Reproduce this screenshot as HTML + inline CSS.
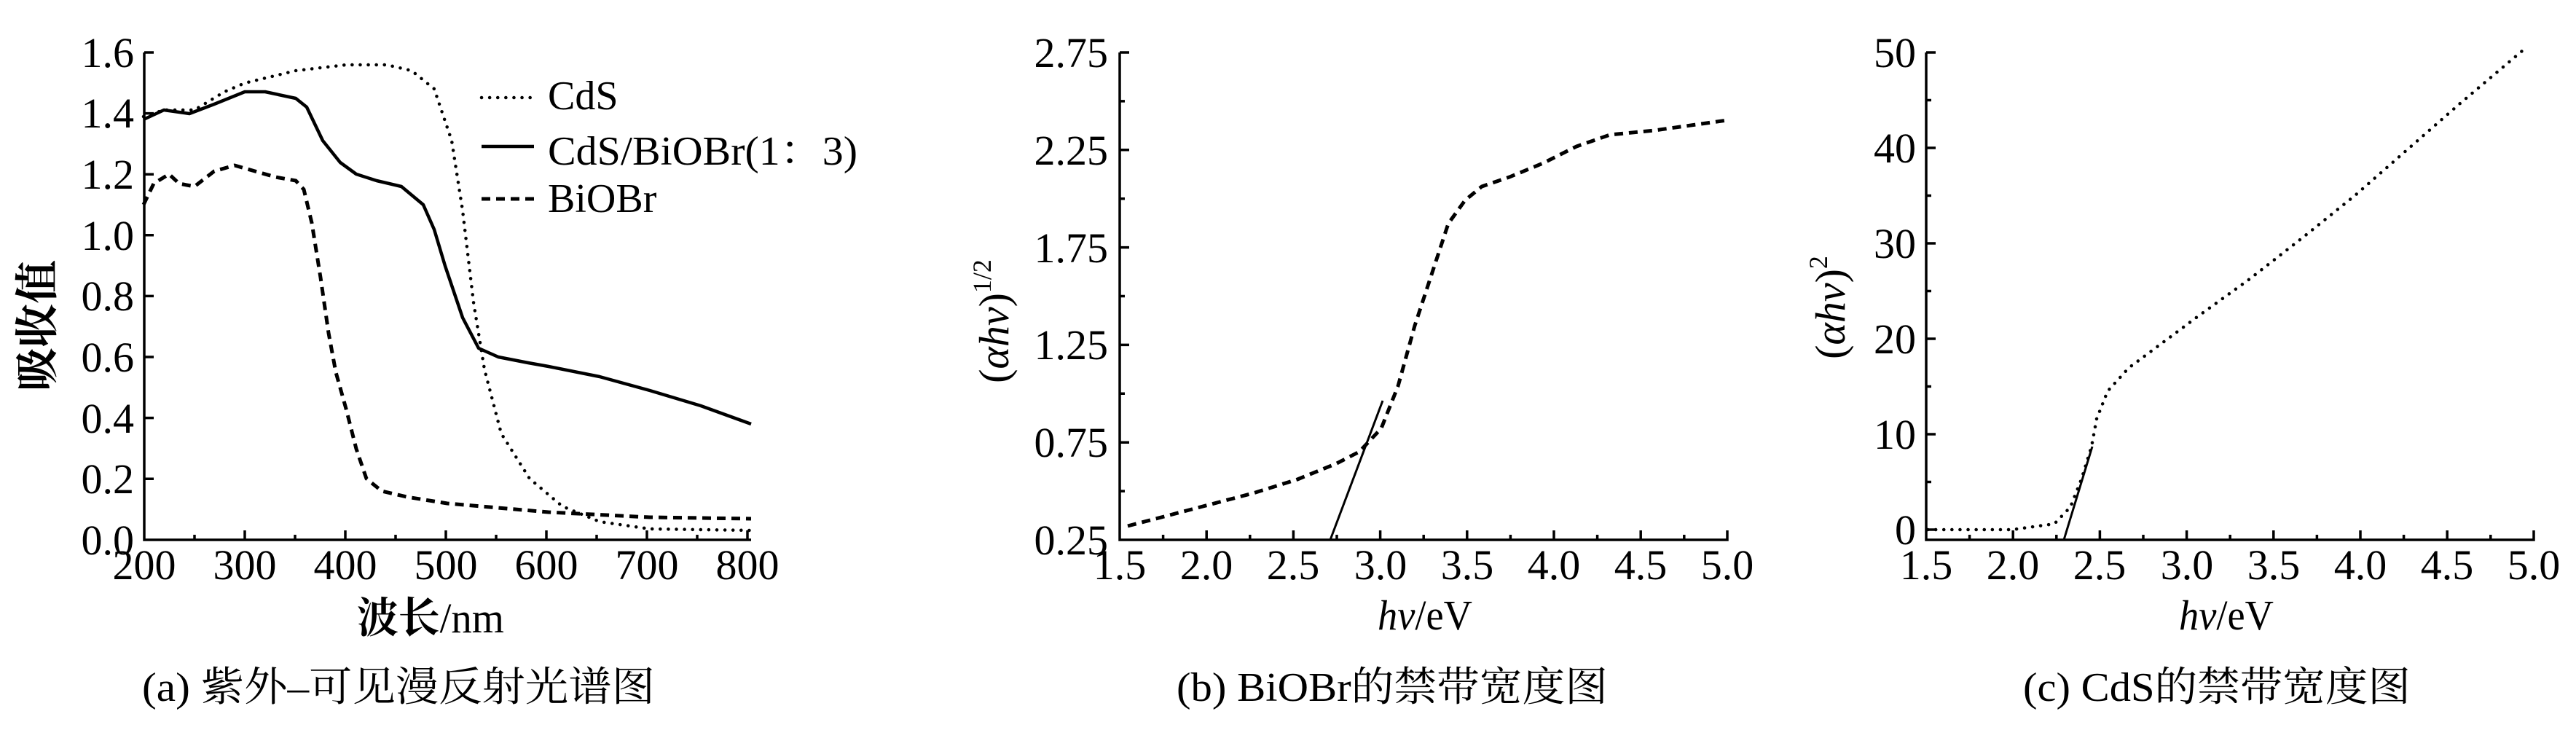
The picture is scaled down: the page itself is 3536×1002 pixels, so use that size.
<!DOCTYPE html>
<html><head><meta charset="utf-8"><style>html,body{margin:0;padding:0;background:#fff}svg{display:block}</style></head>
<body>
<svg width="3536" height="1002" viewBox="0 0 3536 1002" xmlns="http://www.w3.org/2000/svg" font-family="'Liberation Serif','Noto Serif CJK SC',serif" fill="#000">
<g stroke="#000" stroke-width="3.5" fill="none">
<path d="M198 72 V741 H1031"/>
<path d="M198 72h13 M198 155.6h13 M198 239.2h13 M198 322.8h13 M198 406.4h13 M198 490h13 M198 573.6h13 M198 657.2h13"/>
<path d="M336 741v-13 M474 741v-13 M612 741v-13 M750 741v-13 M888 741v-13 M1026 741v-13 M267 741v-7 M405 741v-7 M543 741v-7 M681 741v-7 M819 741v-7 M957 741v-7"/>
<path d="M1537 72 V741 H2371 V728"/>
<path d="M1537 72h13 M1537 138.9h7 M1537 205.8h13 M1537 272.7h7 M1537 339.6h13 M1537 406.5h7 M1537 473.4h13 M1537 540.3h7 M1537 607.2h13 M1537 674.1h7"/>
<path d="M1596.6 741v-7 M1656.2 741v-13 M1715.8 741v-7 M1775.4 741v-13 M1835 741v-7 M1894.6 741v-13 M1954.2 741v-7 M2013.8 741v-13 M2073.4 741v-7 M2133 741v-13 M2192.6 741v-7 M2252.2 741v-13 M2311.8 741v-7"/>
<path d="M2644 72 V741 H3478 V728"/>
<path d="M2644 72h13 M2644 137.5h7 M2644 203h13 M2644 268.5h7 M2644 334h13 M2644 399.5h7 M2644 465h13 M2644 530.5h7 M2644 596h13 M2644 661.5h7 M2644 727h13"/>
<path d="M2703.6 741v-7 M2763.2 741v-13 M2822.8 741v-7 M2882.4 741v-13 M2942 741v-7 M3001.6 741v-13 M3061.2 741v-7 M3120.8 741v-13 M3180.4 741v-7 M3240 741v-13 M3299.6 741v-7 M3359.2 741v-13 M3418.8 741v-7"/>
</g>
<g fill="none" stroke="#000" stroke-linejoin="round">
<polyline stroke-width="4.5" stroke-linecap="round" stroke-dasharray="0.1 11" points="197,160 225,151 267,151 308,126 336,114 406,97 475,89 531,89 565,97 596,122 620,193 635,289 650,415 665,507 688,595 727,657 772,695 823,716 892,726 1031,728"/>
<polyline stroke-width="4.5" points="197,164 225,151 260,156 294,143 336,126 364,126 406,135 421,147 443,193 467,223 489,239 517,248 551,256 581,281 596,315 611,365 635,436 657,478 684,490 725,498 753,503 823,517 892,536 962,557 1031,582"/>
<polyline stroke-width="5" stroke-dasharray="12 8" points="197,281 211,252 232,239 246,252 267,256 294,235 322,227 350,235 378,243 406,248 417,260 428,306 440,381 451,457 461,511 475,561 489,616 503,657 524,674 558,682 614,691 753,703 892,710 1031,712"/>
<line x1="661" y1="134" x2="733" y2="134" stroke-width="4.5" stroke-linecap="round" stroke-dasharray="0.1 11"/>
<line x1="661" y1="201" x2="733" y2="201" stroke-width="4.5"/>
<line x1="661" y1="273" x2="733" y2="273" stroke-width="5" stroke-dasharray="12 8"/>
<polyline stroke-width="5" stroke-dasharray="12 8" points="1548,722 1598,709 1659,693 1720,677 1781,658 1835,636 1866,620 1896,588 1919,530 1942,447 1965,377 1988,307 2011,275 2034,256 2072,243 2118,224 2164,201 2210,185 2271,179 2371,165"/>
<line x1="1826" y1="741" x2="1898" y2="550" stroke-width="3"/>
<polyline stroke-width="4.5" stroke-linecap="round" stroke-dasharray="0.1 11" points="2646,727 2762,727 2820,719 2842,696 2857,658 2871,613 2878,575 2893,537 2922,505 2965,473 3016,435 3088,383 3161,326 3233,268 3306,204 3378,141 3462,70"/>
<line x1="2833" y1="741" x2="2872" y2="613" stroke-width="3"/>
</g>
<g font-size="58" text-anchor="end">
<text x="184" y="92">1.6</text><text x="184" y="175">1.4</text><text x="184" y="259">1.2</text><text x="184" y="343">1.0</text><text x="184" y="426">0.8</text><text x="184" y="510">0.6</text><text x="184" y="594">0.4</text><text x="184" y="677">0.2</text><text x="184" y="761">0.0</text>
</g>
<g font-size="58" text-anchor="middle">
<text x="198" y="795">200</text><text x="336" y="795">300</text><text x="474" y="795">400</text><text x="612" y="795">500</text><text x="750" y="795">600</text><text x="888" y="795">700</text><text x="1026" y="795">800</text>
<text x="1537" y="795">1.5</text><text x="1656" y="795">2.0</text><text x="1775" y="795">2.5</text><text x="1895" y="795">3.0</text><text x="2014" y="795">3.5</text><text x="2133" y="795">4.0</text><text x="2252" y="795">4.5</text><text x="2371" y="795">5.0</text>
<text x="2644" y="795">1.5</text><text x="2763" y="795">2.0</text><text x="2882" y="795">2.5</text><text x="3002" y="795">3.0</text><text x="3121" y="795">3.5</text><text x="3240" y="795">4.0</text><text x="3359" y="795">4.5</text><text x="3478" y="795">5.0</text>
</g>
<g font-size="58" text-anchor="end">
<text x="1521" y="92">2.75</text><text x="1521" y="226">2.25</text><text x="1521" y="360">1.75</text><text x="1521" y="493">1.25</text><text x="1521" y="627">0.75</text><text x="1521" y="761">0.25</text>
</g>
<g font-size="58" text-anchor="end">
<text x="2630" y="92">50</text><text x="2630" y="223">40</text><text x="2630" y="354">30</text><text x="2630" y="485">20</text><text x="2630" y="616">10</text><text x="2630" y="747">0</text>
</g>
<g font-size="56">
<text x="752" y="150">CdS</text>
<text x="752" y="226" textLength="425" lengthAdjust="spacingAndGlyphs">CdS/BiOBr(1：3)</text>
<text x="752" y="291">BiOBr</text>
</g>
<text x="490" y="868" font-size="58" font-weight="bold" textLength="202" lengthAdjust="spacingAndGlyphs">波长<tspan font-weight="normal">/nm</tspan></text>
<text transform="translate(72,447) rotate(-90)" font-size="60" font-weight="bold" text-anchor="middle">吸收值</text>
<text x="1891" y="864" font-size="58" textLength="130" lengthAdjust="spacingAndGlyphs"><tspan font-style="italic">hv</tspan>/eV</text>
<text x="2991" y="864" font-size="58" textLength="130" lengthAdjust="spacingAndGlyphs"><tspan font-style="italic">hv</tspan>/eV</text>
<text transform="translate(1384,441) rotate(-90)" font-size="58" text-anchor="middle">(<tspan font-style="italic">αhv</tspan>)<tspan font-size="36" dy="-24">1/2</tspan></text>
<text transform="translate(2532,422) rotate(-90)" font-size="58" text-anchor="middle">(<tspan font-style="italic">αhv</tspan>)<tspan font-size="36" dy="-24">2</tspan></text>
<text x="195" y="962" font-size="56" textLength="704" lengthAdjust="spacingAndGlyphs">(a) 紫外–可见漫反射光谱图</text>
<text x="1615" y="962" font-size="56" textLength="592" lengthAdjust="spacingAndGlyphs">(b) BiOBr的禁带宽度图</text>
<text x="2777" y="962" font-size="56" textLength="532" lengthAdjust="spacingAndGlyphs">(c) CdS的禁带宽度图</text>
</svg>
</body></html>
